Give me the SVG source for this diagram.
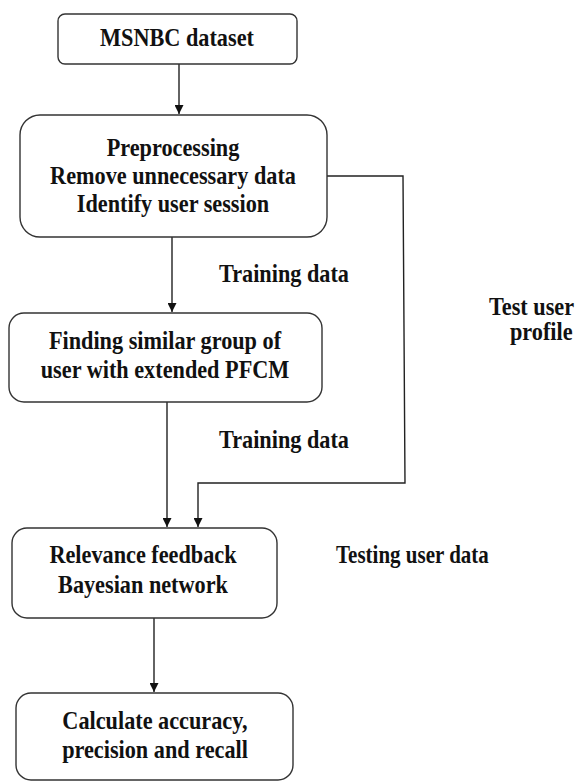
<svg xmlns="http://www.w3.org/2000/svg" width="579" height="781" viewBox="0 0 579 781">
<style>
.box{fill:#fff;stroke:#333;stroke-width:1.4}
.t{font-family:"Liberation Serif","Times New Roman",serif;font-weight:bold;font-size:25px;fill:#111;text-anchor:middle}
.l{font-family:"Liberation Serif","Times New Roman",serif;font-weight:bold;font-size:25px;fill:#111}
.c{fill:none;stroke:#222;stroke-width:1.4}
</style>
<defs>
<marker id="ah" viewBox="0 0 10 10" refX="10" refY="5" markerWidth="9" markerHeight="9" markerUnits="userSpaceOnUse" orient="auto">
<path d="M0,0 L10,5 L0,10 Z" fill="#111"/>
</marker>
</defs>
<rect width="579" height="781" fill="#fff"/>
<g id="connectors">
<line class="c" x1="179" y1="64" x2="179" y2="114" marker-end="url(#ah)"/>
<line class="c" x1="172" y1="237" x2="172" y2="312" marker-end="url(#ah)"/>
<line class="c" x1="167" y1="402" x2="167" y2="527" marker-end="url(#ah)"/>
<polyline class="c" points="327,176 403,176 405,483 198,483 198,527" marker-end="url(#ah)"/>
<line class="c" x1="154" y1="618" x2="154" y2="692" marker-end="url(#ah)"/>
</g>
<g id="n1">
<rect class="box" x="58" y="14" width="239" height="50" rx="7"/>
<text class="t" transform="translate(177 46) scale(0.89 1)">MSNBC  dataset</text>
</g>
<g id="n2">
<rect class="box" x="20" y="115" width="307" height="122" rx="20"/>
<text class="t" transform="translate(173 156) scale(0.89 1)">Preprocessing</text>
<text class="t" transform="translate(173 184) scale(0.89 1)">Remove unnecessary data</text>
<text class="t" transform="translate(173 212) scale(0.89 1)">Identify user session</text>
</g>
<g id="n3">
<rect class="box" x="9" y="313" width="313" height="89" rx="15"/>
<text class="t" transform="translate(165 349) scale(0.89 1)">Finding  similar group of</text>
<text class="t" transform="translate(165 378) scale(0.89 1)">user with extended PFCM</text>
</g>
<g id="n4">
<rect class="box" x="12" y="528" width="265" height="90" rx="15"/>
<text class="t" transform="translate(143 563) scale(0.89 1)">Relevance feedback</text>
<text class="t" transform="translate(143 593) scale(0.89 1)">Bayesian network</text>
</g>
<g id="n5">
<rect class="box" x="16" y="693" width="277" height="87" rx="15"/>
<text class="t" transform="translate(155 729) scale(0.89 1)">Calculate accuracy,</text>
<text class="t" transform="translate(155 758) scale(0.89 1)">precision and recall</text>
</g>
<g id="labels">
<text class="l" transform="translate(219 282) scale(0.89 1)">Training data</text>
<text class="l" transform="translate(219 448) scale(0.89 1)">Training data</text>
<text class="l" transform="translate(489 315) scale(0.89 1)">Test user</text>
<text class="l" transform="translate(510 340) scale(0.89 1)">profile</text>
<text class="l" transform="translate(336 563) scale(0.84 1)">Testing user data</text>
</g>
</svg>
